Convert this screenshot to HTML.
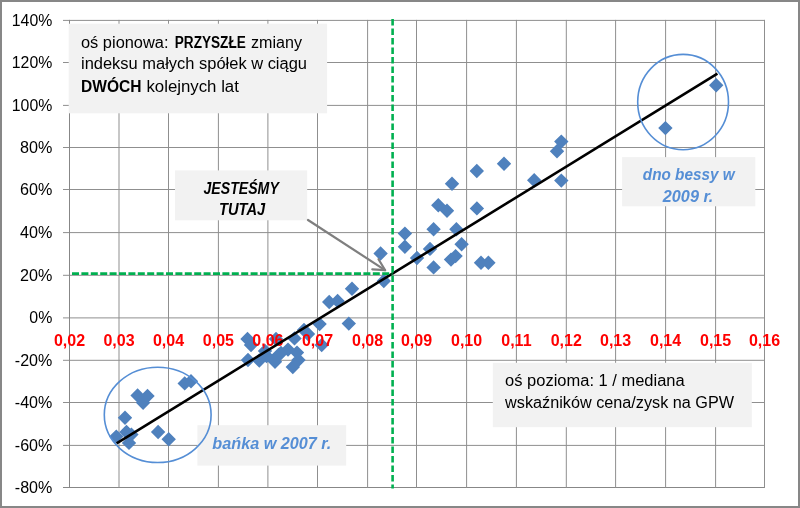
<!DOCTYPE html>
<html><head><meta charset="utf-8"><style>
html,body{margin:0;padding:0;background:#fff;}
body{width:800px;height:508px;overflow:hidden;}
svg{display:block;will-change:transform;}
text{font-family:"Liberation Sans",sans-serif;}
</style></head><body>
<svg width="800" height="508" viewBox="0 0 800 508">
<rect x="0" y="0" width="800" height="508" fill="#fff"/>

<line x1="63" y1="20.4" x2="765.0" y2="20.4" stroke="#8f8f8f" stroke-width="1"/>
<line x1="63" y1="62.5" x2="765.0" y2="62.5" stroke="#8f8f8f" stroke-width="1"/>
<line x1="63" y1="105.4" x2="765.0" y2="105.4" stroke="#8f8f8f" stroke-width="1"/>
<line x1="63" y1="147.5" x2="765.0" y2="147.5" stroke="#8f8f8f" stroke-width="1"/>
<line x1="63" y1="189.5" x2="765.0" y2="189.5" stroke="#8f8f8f" stroke-width="1"/>
<line x1="63" y1="232.6" x2="765.0" y2="232.6" stroke="#8f8f8f" stroke-width="1"/>
<line x1="63" y1="275.3" x2="765.0" y2="275.3" stroke="#8f8f8f" stroke-width="1"/>
<line x1="63" y1="317.9" x2="765.0" y2="317.9" stroke="#8f8f8f" stroke-width="1"/>
<line x1="63" y1="360.3" x2="765.0" y2="360.3" stroke="#8f8f8f" stroke-width="1"/>
<line x1="63" y1="402.5" x2="765.0" y2="402.5" stroke="#8f8f8f" stroke-width="1"/>
<line x1="63" y1="445.4" x2="765.0" y2="445.4" stroke="#8f8f8f" stroke-width="1"/>
<line x1="63" y1="487.5" x2="765.0" y2="487.5" stroke="#878787" stroke-width="1"/>
<line x1="69.5" y1="19.9" x2="69.5" y2="488.0" stroke="#878787" stroke-width="1"/>
<line x1="119.0" y1="19.9" x2="119.0" y2="488.0" stroke="#8f8f8f" stroke-width="1"/>
<line x1="168.5" y1="19.9" x2="168.5" y2="488.0" stroke="#8f8f8f" stroke-width="1"/>
<line x1="218.4" y1="19.9" x2="218.4" y2="488.0" stroke="#8f8f8f" stroke-width="1"/>
<line x1="267.9" y1="19.9" x2="267.9" y2="488.0" stroke="#8f8f8f" stroke-width="1"/>
<line x1="317.5" y1="19.9" x2="317.5" y2="488.0" stroke="#8f8f8f" stroke-width="1"/>
<line x1="367.6" y1="19.9" x2="367.6" y2="488.0" stroke="#8f8f8f" stroke-width="1"/>
<line x1="416.5" y1="19.9" x2="416.5" y2="488.0" stroke="#8f8f8f" stroke-width="1"/>
<line x1="466.6" y1="19.9" x2="466.6" y2="488.0" stroke="#8f8f8f" stroke-width="1"/>
<line x1="516.4" y1="19.9" x2="516.4" y2="488.0" stroke="#8f8f8f" stroke-width="1"/>
<line x1="566.3" y1="19.9" x2="566.3" y2="488.0" stroke="#8f8f8f" stroke-width="1"/>
<line x1="615.6" y1="19.9" x2="615.6" y2="488.0" stroke="#8f8f8f" stroke-width="1"/>
<line x1="665.6" y1="19.9" x2="665.6" y2="488.0" stroke="#8f8f8f" stroke-width="1"/>
<line x1="715.6" y1="19.9" x2="715.6" y2="488.0" stroke="#8f8f8f" stroke-width="1"/>
<line x1="764.5" y1="19.9" x2="764.5" y2="488.0" stroke="#8f8f8f" stroke-width="1"/>
<text x="11.799999999999997" y="25.9" font-size="16" fill="#000" textLength="40.5" lengthAdjust="spacingAndGlyphs">140%</text>
<text x="11.799999999999997" y="68.0" font-size="16" fill="#000" textLength="40.5" lengthAdjust="spacingAndGlyphs">120%</text>
<text x="11.799999999999997" y="110.9" font-size="16" fill="#000" textLength="40.5" lengthAdjust="spacingAndGlyphs">100%</text>
<text x="20.0" y="153.0" font-size="16" fill="#000" textLength="32.3" lengthAdjust="spacingAndGlyphs">80%</text>
<text x="20.0" y="195.0" font-size="16" fill="#000" textLength="32.3" lengthAdjust="spacingAndGlyphs">60%</text>
<text x="20.0" y="238.1" font-size="16" fill="#000" textLength="32.3" lengthAdjust="spacingAndGlyphs">40%</text>
<text x="20.0" y="280.8" font-size="16" fill="#000" textLength="32.3" lengthAdjust="spacingAndGlyphs">20%</text>
<text x="29.299999999999997" y="323.4" font-size="16" fill="#000" textLength="23" lengthAdjust="spacingAndGlyphs">0%</text>
<text x="14.799999999999997" y="365.8" font-size="16" fill="#000" textLength="37.5" lengthAdjust="spacingAndGlyphs">-20%</text>
<text x="14.799999999999997" y="408.0" font-size="16" fill="#000" textLength="37.5" lengthAdjust="spacingAndGlyphs">-40%</text>
<text x="14.799999999999997" y="450.9" font-size="16" fill="#000" textLength="37.5" lengthAdjust="spacingAndGlyphs">-60%</text>
<text x="14.799999999999997" y="493.0" font-size="16" fill="#000" textLength="37.5" lengthAdjust="spacingAndGlyphs">-80%</text>
<path d="M125.0 410.6L132.2 417.8L125.0 425.0L117.8 417.8ZM116.3 429.4L123.5 436.6L116.3 443.8L109.1 436.6ZM126.5 424.8L133.7 432.0L126.5 439.2L119.3 432.0ZM131.4 427.4L138.6 434.6L131.4 441.8L124.2 434.6ZM129.0 435.7L136.2 442.9L129.0 450.1L121.8 442.9ZM158.1 424.8L165.3 432.0L158.1 439.2L150.9 432.0ZM168.7 432.0L175.9 439.2L168.7 446.4L161.5 439.2ZM137.6 388.3L144.8 395.5L137.6 402.7L130.4 395.5ZM147.5 388.8L154.7 396.0L147.5 403.2L140.3 396.0ZM143.1 395.6L150.3 402.8L143.1 410.0L135.9 402.8ZM184.7 376.2L191.9 383.4L184.7 390.6L177.5 383.4ZM191.0 374.0L198.2 381.2L191.0 388.4L183.8 381.2ZM247.5 331.8L254.7 339.0L247.5 346.2L240.3 339.0ZM251.0 337.8L258.2 345.0L251.0 352.2L243.8 345.0ZM248.0 352.8L255.2 360.0L248.0 367.2L240.8 360.0ZM265.0 343.8L272.2 351.0L265.0 358.2L257.8 351.0ZM266.5 348.8L273.7 356.0L266.5 363.2L259.3 356.0ZM281.0 345.8L288.2 353.0L281.0 360.2L273.8 353.0ZM259.3 353.3L266.5 360.5L259.3 367.7L252.1 360.5ZM276.0 331.8L283.2 339.0L276.0 346.2L268.8 339.0ZM275.0 354.6L282.2 361.8L275.0 369.0L267.8 361.8ZM278.5 347.8L285.7 355.0L278.5 362.2L271.3 355.0ZM288.0 342.4L295.2 349.6L288.0 356.8L280.8 349.6ZM297.0 345.4L304.2 352.6L297.0 359.8L289.8 352.6ZM292.8 359.8L300.0 367.0L292.8 374.2L285.6 367.0ZM298.5 352.8L305.7 360.0L298.5 367.2L291.3 360.0ZM294.5 331.2L301.7 338.4L294.5 345.6L287.3 338.4ZM304.0 322.8L311.2 330.0L304.0 337.2L296.8 330.0ZM308.0 326.8L315.2 334.0L308.0 341.2L300.8 334.0ZM319.6 316.9L326.8 324.1L319.6 331.3L312.4 324.1ZM321.7 337.9L328.9 345.1L321.7 352.3L314.5 345.1ZM329.2 294.8L336.4 302.0L329.2 309.2L322.0 302.0ZM337.6 293.8L344.8 301.0L337.6 308.2L330.4 301.0ZM348.8 316.4L356.0 323.6L348.8 330.8L341.6 323.6ZM352.0 281.6L359.2 288.8L352.0 296.0L344.8 288.8ZM380.6 246.3L387.8 253.5L380.6 260.7L373.4 253.5ZM383.8 273.8L391.0 281.0L383.8 288.2L376.6 281.0ZM404.9 226.4L412.1 233.6L404.9 240.8L397.7 233.6ZM404.9 239.5L412.1 246.7L404.9 253.9L397.7 246.7ZM417.0 250.8L424.2 258.0L417.0 265.2L409.8 258.0ZM430.0 241.7L437.2 248.9L430.0 256.1L422.8 248.9ZM433.6 260.2L440.8 267.4L433.6 274.6L426.4 267.4ZM433.6 222.0L440.8 229.2L433.6 236.4L426.4 229.2ZM438.3 198.0L445.5 205.2L438.3 212.4L431.1 205.2ZM447.0 203.5L454.2 210.7L447.0 217.9L439.8 210.7ZM456.4 222.1L463.6 229.3L456.4 236.5L449.2 229.3ZM461.6 237.1L468.8 244.3L461.6 251.5L454.4 244.3ZM451.0 252.4L458.2 259.6L451.0 266.8L443.8 259.6ZM455.6 248.9L462.8 256.1L455.6 263.3L448.4 256.1ZM452.0 176.5L459.2 183.7L452.0 190.9L444.8 183.7ZM476.8 163.8L484.0 171.0L476.8 178.2L469.6 171.0ZM476.9 201.2L484.1 208.4L476.9 215.6L469.7 208.4ZM481.0 255.6L488.2 262.8L481.0 270.0L473.8 262.8ZM488.4 255.6L495.6 262.8L488.4 270.0L481.2 262.8ZM504.0 156.5L511.2 163.7L504.0 170.9L496.8 163.7ZM534.2 173.1L541.4 180.3L534.2 187.5L527.0 180.3ZM557.0 144.0L564.2 151.2L557.0 158.4L549.8 151.2ZM561.3 134.4L568.5 141.6L561.3 148.8L554.1 141.6ZM561.3 173.4L568.5 180.6L561.3 187.8L554.1 180.6ZM665.4 120.9L672.6 128.1L665.4 135.3L658.2 128.1ZM716.2 78.1L723.4 85.3L716.2 92.5L709.0 85.3Z" fill="#4f81bd"/>
<text x="69.5" y="346" text-anchor="middle" font-size="16" font-weight="bold" fill="#ff0000">0,02</text>
<text x="119.0" y="346" text-anchor="middle" font-size="16" font-weight="bold" fill="#ff0000">0,03</text>
<text x="168.5" y="346" text-anchor="middle" font-size="16" font-weight="bold" fill="#ff0000">0,04</text>
<text x="218.4" y="346" text-anchor="middle" font-size="16" font-weight="bold" fill="#ff0000">0,05</text>
<text x="267.9" y="346" text-anchor="middle" font-size="16" font-weight="bold" fill="#ff0000">0,06</text>
<text x="317.5" y="346" text-anchor="middle" font-size="16" font-weight="bold" fill="#ff0000">0,07</text>
<text x="367.6" y="346" text-anchor="middle" font-size="16" font-weight="bold" fill="#ff0000">0,08</text>
<text x="416.5" y="346" text-anchor="middle" font-size="16" font-weight="bold" fill="#ff0000">0,09</text>
<text x="466.6" y="346" text-anchor="middle" font-size="16" font-weight="bold" fill="#ff0000">0,10</text>
<text x="516.4" y="346" text-anchor="middle" font-size="16" font-weight="bold" fill="#ff0000">0,11</text>
<text x="566.3" y="346" text-anchor="middle" font-size="16" font-weight="bold" fill="#ff0000">0,12</text>
<text x="615.6" y="346" text-anchor="middle" font-size="16" font-weight="bold" fill="#ff0000">0,13</text>
<text x="665.6" y="346" text-anchor="middle" font-size="16" font-weight="bold" fill="#ff0000">0,14</text>
<text x="715.6" y="346" text-anchor="middle" font-size="16" font-weight="bold" fill="#ff0000">0,15</text>
<text x="764.5" y="346" text-anchor="middle" font-size="16" font-weight="bold" fill="#ff0000">0,16</text>
<line x1="116.6" y1="443.3" x2="717.4" y2="73.7" stroke="#000" stroke-width="2.6"/>
<line x1="72" y1="273.6" x2="392.6" y2="273.6" stroke="#00b050" stroke-width="2.6" stroke-dasharray="7 2.4"/>
<line x1="392.6" y1="19" x2="392.6" y2="488.5" stroke="#00b050" stroke-width="2.6" stroke-dasharray="6.5 3"/>
<rect x="68.7" y="23.7" width="258.4" height="89.6" fill="#f2f2f2"/>
<text font-size="16" fill="#000"><tspan x="81" y="47.5" textLength="87.5" lengthAdjust="spacingAndGlyphs">oś pionowa:</tspan><tspan font-weight="bold" x="174.8" textLength="71" lengthAdjust="spacingAndGlyphs">PRZYSZŁE</tspan><tspan x="251" textLength="51" lengthAdjust="spacingAndGlyphs">zmiany</tspan><tspan x="81" y="69.4" textLength="226" lengthAdjust="spacingAndGlyphs">indeksu małych spółek w ciągu</tspan><tspan x="81" y="91.6" font-weight="bold" textLength="60.5" lengthAdjust="spacingAndGlyphs">DWÓCH</tspan><tspan x="146.4" textLength="92.5" lengthAdjust="spacingAndGlyphs">kolejnych lat</tspan></text>
<rect x="175" y="170.4" width="132.2" height="49.9" fill="#f2f2f2"/>
<text font-size="17" font-weight="bold" font-style="italic" fill="#000"><tspan x="203.5" y="193.6" textLength="75.3" lengthAdjust="spacingAndGlyphs">JESTEŚMY</tspan><tspan x="219" y="215.4" textLength="46.2" lengthAdjust="spacingAndGlyphs">TUTAJ</tspan></text>
<g stroke="#7f7f7f" stroke-width="2.2" fill="none" stroke-linecap="round" stroke-linejoin="round"><line x1="308" y1="220" x2="385" y2="270.1"/><polyline points="372.3,269.3 385.2,270.2 378.5,259.2"/></g>
<rect x="622.1" y="157.1" width="133.2" height="49.2" fill="#f2f2f2"/>
<text font-size="17" font-weight="bold" font-style="italic" fill="#558ed5"><tspan x="642.8" y="179.6" textLength="91.8" lengthAdjust="spacingAndGlyphs">dno bessy w</tspan><tspan x="662.8" y="201.6" textLength="50.6" lengthAdjust="spacingAndGlyphs">2009 r.</tspan></text>
<rect x="197.4" y="425.2" width="148.8" height="40.4" fill="#f2f2f2"/>
<text font-size="17" font-weight="bold" font-style="italic" fill="#558ed5"><tspan x="212.3" y="448.6" textLength="119" lengthAdjust="spacingAndGlyphs">bańka w 2007 r.</tspan></text>
<rect x="492.8" y="362.8" width="259" height="64.4" fill="#f2f2f2"/>
<text font-size="16" fill="#000"><tspan x="505.1" y="385.9" textLength="179.6" lengthAdjust="spacingAndGlyphs">oś pozioma: 1 / mediana</tspan><tspan x="505.1" y="408.1" textLength="229" lengthAdjust="spacingAndGlyphs">wskaźników cena/zysk na GPW</tspan></text>
<ellipse cx="157.7" cy="414.85" rx="53.4" ry="47.65" fill="none" stroke="#558ed5" stroke-width="1.6"/>
<ellipse cx="683.1" cy="102.05" rx="45.4" ry="47.65" fill="none" stroke="#558ed5" stroke-width="1.6"/>
<rect x="1" y="1" width="798" height="506" fill="none" stroke="#878787" stroke-width="2"/>

</svg></body></html>
